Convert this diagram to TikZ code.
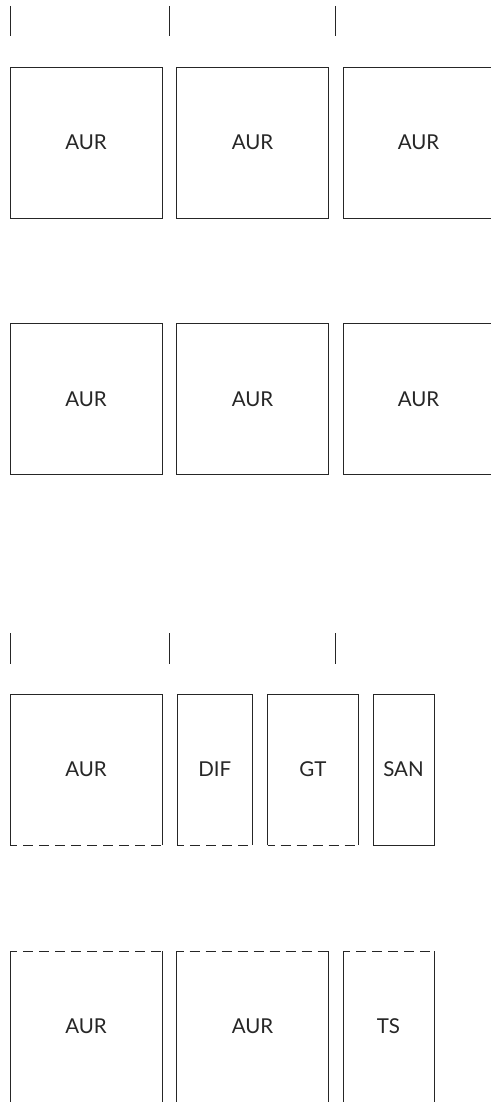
\documentclass[tikz,border=0pt]{standalone}
\usepackage{fontspec}
\setmainfont{Lato}
\begin{document}
\begin{tikzpicture}[x=1pt,y=-1pt,
  line width=0.9pt,
  ln/.style={draw=black!85},
  cell/.style={minimum height=151pt, inner sep=0pt, outer sep=0pt, font=\fontsize{20.5}{22}\selectfont, text=black!85},
  solidbox/.style={cell, draw=black!85},
  hidebox/.style={cell},
  dsh/.style={ln, dash pattern=on 10pt off 6pt, dash phase=3pt},
  tick/.style={ln}]
\useasboundingbox (0,0) rectangle (490,1102);

% tick marks, top group
\draw[tick] (10,6) -- (10,36);
\draw[tick] (169,6) -- (169,36);
\draw[tick] (335,6) -- (335,36);

% row 1
\node[solidbox, minimum width=152pt, anchor=north west] (r1a) at (10,67) {AUR};
\node[solidbox, minimum width=152pt, anchor=north west] (r1b) at (176.5,67) {AUR};
\node[solidbox, minimum width=151pt, anchor=north west] (r1c) at (343,67) {AUR};

% row 2
\node[solidbox, minimum width=152pt, anchor=north west] (r2a) at (10,323.5) {AUR};
\node[solidbox, minimum width=152pt, anchor=north west] (r2b) at (176.5,323.5) {AUR};
\node[solidbox, minimum width=151pt, anchor=north west] (r2c) at (343,323.5) {AUR};

% tick marks, lower group
\draw[tick] (10,633) -- (10,664);
\draw[tick] (169,633) -- (169,664);
\draw[tick] (335,633) -- (335,664);

% row 3
\node[hidebox, minimum width=152pt, anchor=north west] (r3a) at (10,694) {AUR};
\node[hidebox, minimum width=75.5pt, anchor=north west] (r3b) at (177,694) {DIF};
\node[hidebox, minimum width=91pt, anchor=north west] (r3c) at (267.5,694) {GT};
\node[solidbox, minimum width=61pt, anchor=north west] (r3d) at (373,694) {SAN};
\foreach \n in {r3a,r3b,r3c}{
  \draw[ln] (\n.south west) -- (\n.north west) -- (\n.north east) -- (\n.south east);
  \draw[dsh] (\n.south west) -- (\n.south east);
}

% row 4
\node[hidebox, minimum width=152pt, anchor=north west] (r4a) at (10,951) {AUR};
\node[hidebox, minimum width=152pt, anchor=north west] (r4b) at (176.5,951) {AUR};
\node[hidebox, minimum width=91pt, anchor=north west] (r4c) at (343,951) {TS};
\foreach \n in {r4a,r4b,r4c}{
  \draw[ln] (\n.north west) -- (\n.south west) -- (\n.south east) -- (\n.north east);
  \draw[dsh] (\n.north west) -- (\n.north east);
}
\end{tikzpicture}
\end{document}
